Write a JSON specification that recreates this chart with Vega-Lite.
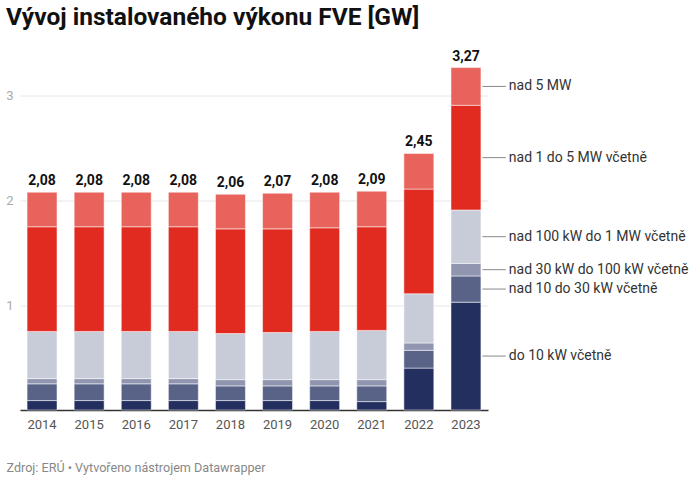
{
  "$schema": "https://vega.github.io/schema/vega-lite/v6.json",
  "width": 468,
  "height": 366.5,
  "autosize": {"type": "none"},
  "padding": {"left": 20, "top": 43.5, "right": 212, "bottom": 71},
  "title": {
    "text": "Vývoj instalovaného výkonu FVE [GW]",
    "anchor": "start",
    "frame": "group",
    "dx": -14,
    "offset": 13,
    "font": "Roboto",
    "fontSize": 24.5,
    "fontWeight": "bold",
    "color": "#111111"
  },
  "config": {
    "view": {"stroke": null},
    "font": "Roboto",
    "locale": {"number": {"decimal": ",", "thousands": " ", "grouping": [3], "currency": ["", " Kč"]}}
  },
  "data": {
    "values": [
      {"year": "2014", "category": "do 10 kW včetně", "rank": 1, "value": 0.09},
      {"year": "2014", "category": "nad 10 do 30 kW včetně", "rank": 2, "value": 0.16},
      {"year": "2014", "category": "nad 30 kW do 100 kW včetně", "rank": 3, "value": 0.05},
      {"year": "2014", "category": "nad 100 kW do 1 MW včetně", "rank": 4, "value": 0.45},
      {"year": "2014", "category": "nad 1 do 5 MW včetně", "rank": 5, "value": 1.0},
      {"year": "2014", "category": "nad 5 MW", "rank": 6, "value": 0.33},
      {"year": "2015", "category": "do 10 kW včetně", "rank": 1, "value": 0.09},
      {"year": "2015", "category": "nad 10 do 30 kW včetně", "rank": 2, "value": 0.16},
      {"year": "2015", "category": "nad 30 kW do 100 kW včetně", "rank": 3, "value": 0.05},
      {"year": "2015", "category": "nad 100 kW do 1 MW včetně", "rank": 4, "value": 0.45},
      {"year": "2015", "category": "nad 1 do 5 MW včetně", "rank": 5, "value": 1.0},
      {"year": "2015", "category": "nad 5 MW", "rank": 6, "value": 0.33},
      {"year": "2016", "category": "do 10 kW včetně", "rank": 1, "value": 0.09},
      {"year": "2016", "category": "nad 10 do 30 kW včetně", "rank": 2, "value": 0.16},
      {"year": "2016", "category": "nad 30 kW do 100 kW včetně", "rank": 3, "value": 0.05},
      {"year": "2016", "category": "nad 100 kW do 1 MW včetně", "rank": 4, "value": 0.45},
      {"year": "2016", "category": "nad 1 do 5 MW včetně", "rank": 5, "value": 1.0},
      {"year": "2016", "category": "nad 5 MW", "rank": 6, "value": 0.33},
      {"year": "2017", "category": "do 10 kW včetně", "rank": 1, "value": 0.09},
      {"year": "2017", "category": "nad 10 do 30 kW včetně", "rank": 2, "value": 0.16},
      {"year": "2017", "category": "nad 30 kW do 100 kW včetně", "rank": 3, "value": 0.05},
      {"year": "2017", "category": "nad 100 kW do 1 MW včetně", "rank": 4, "value": 0.45},
      {"year": "2017", "category": "nad 1 do 5 MW včetně", "rank": 5, "value": 1.0},
      {"year": "2017", "category": "nad 5 MW", "rank": 6, "value": 0.33},
      {"year": "2018", "category": "do 10 kW včetně", "rank": 1, "value": 0.09},
      {"year": "2018", "category": "nad 10 do 30 kW včetně", "rank": 2, "value": 0.14},
      {"year": "2018", "category": "nad 30 kW do 100 kW včetně", "rank": 3, "value": 0.06},
      {"year": "2018", "category": "nad 100 kW do 1 MW včetně", "rank": 4, "value": 0.44},
      {"year": "2018", "category": "nad 1 do 5 MW včetně", "rank": 5, "value": 1.0},
      {"year": "2018", "category": "nad 5 MW", "rank": 6, "value": 0.33},
      {"year": "2019", "category": "do 10 kW včetně", "rank": 1, "value": 0.09},
      {"year": "2019", "category": "nad 10 do 30 kW včetně", "rank": 2, "value": 0.14},
      {"year": "2019", "category": "nad 30 kW do 100 kW včetně", "rank": 3, "value": 0.06},
      {"year": "2019", "category": "nad 100 kW do 1 MW včetně", "rank": 4, "value": 0.45},
      {"year": "2019", "category": "nad 1 do 5 MW včetně", "rank": 5, "value": 0.99},
      {"year": "2019", "category": "nad 5 MW", "rank": 6, "value": 0.34},
      {"year": "2020", "category": "do 10 kW včetně", "rank": 1, "value": 0.09},
      {"year": "2020", "category": "nad 10 do 30 kW včetně", "rank": 2, "value": 0.14},
      {"year": "2020", "category": "nad 30 kW do 100 kW včetně", "rank": 3, "value": 0.06},
      {"year": "2020", "category": "nad 100 kW do 1 MW včetně", "rank": 4, "value": 0.46},
      {"year": "2020", "category": "nad 1 do 5 MW včetně", "rank": 5, "value": 0.99},
      {"year": "2020", "category": "nad 5 MW", "rank": 6, "value": 0.34},
      {"year": "2021", "category": "do 10 kW včetně", "rank": 1, "value": 0.08},
      {"year": "2021", "category": "nad 10 do 30 kW včetně", "rank": 2, "value": 0.15},
      {"year": "2021", "category": "nad 30 kW do 100 kW včetně", "rank": 3, "value": 0.06},
      {"year": "2021", "category": "nad 100 kW do 1 MW včetně", "rank": 4, "value": 0.47},
      {"year": "2021", "category": "nad 1 do 5 MW včetně", "rank": 5, "value": 0.99},
      {"year": "2021", "category": "nad 5 MW", "rank": 6, "value": 0.34},
      {"year": "2022", "category": "do 10 kW včetně", "rank": 1, "value": 0.40},
      {"year": "2022", "category": "nad 10 do 30 kW včetně", "rank": 2, "value": 0.17},
      {"year": "2022", "category": "nad 30 kW do 100 kW včetně", "rank": 3, "value": 0.07},
      {"year": "2022", "category": "nad 100 kW do 1 MW včetně", "rank": 4, "value": 0.47},
      {"year": "2022", "category": "nad 1 do 5 MW včetně", "rank": 5, "value": 1.0},
      {"year": "2022", "category": "nad 5 MW", "rank": 6, "value": 0.34},
      {"year": "2023", "category": "do 10 kW včetně", "rank": 1, "value": 1.03},
      {"year": "2023", "category": "nad 10 do 30 kW včetně", "rank": 2, "value": 0.25},
      {"year": "2023", "category": "nad 30 kW do 100 kW včetně", "rank": 3, "value": 0.12},
      {"year": "2023", "category": "nad 100 kW do 1 MW včetně", "rank": 4, "value": 0.51},
      {"year": "2023", "category": "nad 1 do 5 MW včetně", "rank": 5, "value": 1.0},
      {"year": "2023", "category": "nad 5 MW", "rank": 6, "value": 0.36}
    ]
  },
  "encoding": {
    "x": {
      "field": "year",
      "type": "ordinal",
      "scale": {"paddingInner": 0.364, "paddingOuter": 0.15},
      "axis": {
        "title": "Zdroj: ERÚ • Vytvořeno nástrojem Datawrapper",
        "titleFont": "Roboto",
        "titleFontSize": 12.6,
        "titleFontWeight": "normal",
        "titleColor": "#888888",
        "titleAnchor": null,
        "titleAlign": "left",
        "titleBaseline": "alphabetic",
        "titleX": -14,
        "titleY": 61.5,
        "labelAngle": 0,
        "labelFont": "Roboto",
        "labelFontSize": 13,
        "labelColor": "#555555",
        "labelPadding": 8,
        "ticks": false,
        "domainColor": "#333333",
        "domainWidth": 1.5
      }
    }
  },
  "layer": [
    {
      "mark": {"type": "bar", "stroke": "white", "strokeWidth": 0.5},
      "encoding": {
        "y": {
          "field": "value",
          "type": "quantitative",
          "stack": "zero",
          "scale": {"domain": [0, 3.5], "nice": false},
          "axis": {
            "title": null,
            "values": [1, 2, 3],
            "format": "d",
            "domain": false,
            "ticks": false,
            "labelFont": "Roboto",
            "labelFontSize": 13,
            "labelColor": "#aaaaaa",
            "labelPadding": 7,
            "gridColor": "#e6e6e6",
            "gridWidth": 1
          }
        },
        "color": {
          "field": "category",
          "type": "nominal",
          "legend": null,
          "scale": {
            "domain": [
              "do 10 kW včetně",
              "nad 10 do 30 kW včetně",
              "nad 30 kW do 100 kW včetně",
              "nad 100 kW do 1 MW včetně",
              "nad 1 do 5 MW včetně",
              "nad 5 MW"
            ],
            "range": ["#232f5f", "#596387", "#9196b0", "#c8ccd8", "#e12b21", "#e8635b"]
          }
        },
        "order": {"field": "rank", "type": "quantitative"}
      }
    },
    {
      "mark": {"type": "text", "font": "Roboto", "fontSize": 14, "fontWeight": "bold", "color": "#111111", "baseline": "alphabetic", "dy": -7},
      "encoding": {
        "y": {"aggregate": "sum", "field": "value", "type": "quantitative"},
        "text": {"aggregate": "sum", "field": "value", "type": "quantitative", "format": ".2f"}
      }
    },
    {
      "transform": [
        {"filter": "datum.year == '2023'"},
        {"stack": "value", "groupby": ["year"], "sort": [{"field": "rank"}], "as": ["v0", "v1"]},
        {"calculate": "(datum.v0 + datum.v1) / 2", "as": "mid"}
      ],
      "mark": {"type": "rule", "color": "#888888", "strokeWidth": 1},
      "encoding": {
        "x": {"field": "year", "type": "ordinal", "bandPosition": 1.05},
        "x2": {"field": "year", "bandPosition": 1.83},
        "y": {"field": "mid", "type": "quantitative"}
      }
    },
    {
      "transform": [
        {"filter": "datum.year == '2023'"},
        {"stack": "value", "groupby": ["year"], "sort": [{"field": "rank"}], "as": ["v0", "v1"]},
        {"calculate": "(datum.v0 + datum.v1) / 2", "as": "mid"}
      ],
      "mark": {"type": "text", "align": "left", "baseline": "middle", "font": "Roboto", "fontSize": 14, "color": "#333333", "dx": 3},
      "encoding": {
        "x": {"field": "year", "type": "ordinal", "bandPosition": 1.83},
        "y": {"field": "mid", "type": "quantitative"},
        "text": {"field": "category"}
      }
    }
  ]
}
